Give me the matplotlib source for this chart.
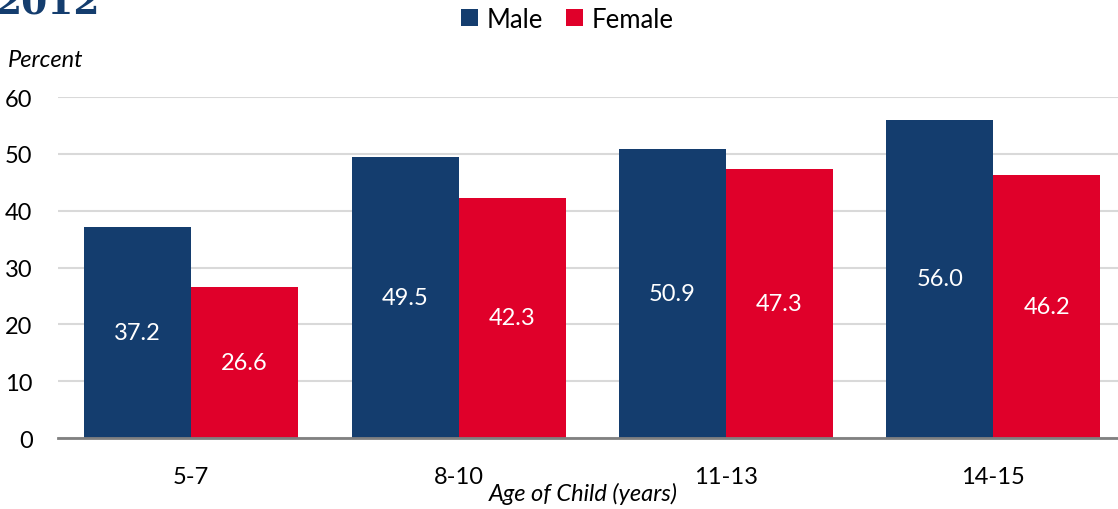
import matplotlib.pyplot as plt
import numpy as np

plt.rcParams['font.family'] = ['Lato', 'DejaVu Sans']

ages = ['5-7', '8-10', '11-13', '14-15']
male = [37.2, 49.5, 50.9, 56.0]
female = [26.6, 42.3, 47.3, 46.2]
yticks = [0, 10, 20, 30, 40, 50, 60]

navy = '#143d6e'
red = '#e0002a'
fs = 17

fig = plt.figure(figsize=(11.18, 5.10), dpi=100)
# plot area runs slightly past the right edge of the figure
ax = fig.add_axes([0.0515, 0.1392, 0.9566, 0.6686])

x = np.arange(len(ages))
w = 0.40
bm = ax.bar(x - w / 2, male, w, color=navy, label='Male', zorder=3)
bf = ax.bar(x + w / 2, female, w, color=red, label='Female', zorder=3)

# value labels sit in the middle of each bar
for bars in (bm, bf):
    for b in bars:
        h = b.get_height()
        ax.text(b.get_x() + b.get_width() / 2, h / 2, f'{h:.1f}',
                ha='center', va='center', color='white', fontsize=fs, zorder=4)

ax.set_xlim(-0.5, len(ages) - 0.5)
ax.set_ylim(0, 60)
ax.set_yticks(yticks)
ax.set_xticks(x)
ax.set_xticklabels(ages)
ax.tick_params(axis='both', length=0, labelsize=fs, colors='black')
ax.tick_params(axis='x', pad=20)
ax.tick_params(axis='y', pad=18)
ax.yaxis.grid(True, color='#d9d9d9', linewidth=1.5, zorder=0)
for s in ['top', 'right', 'left']:
    ax.spines[s].set_visible(False)
ax.spines['bottom'].set_color('#808080')
ax.spines['bottom'].set_linewidth(2)
ax.spines['bottom'].set_zorder(5)

ax.set_xlabel('Age of Child (years)', fontsize=fs, style='italic', va='center')
ax.xaxis.set_label_coords(0.4916, -0.161)
fig.text(0.007, 0.882, 'Percent', fontsize=fs, style='italic', va='center')
fig.text(-0.004, 0.995, '2012', fontsize=27, fontweight='bold', color=navy,
         family='DejaVu Serif', va='center')

fig.legend(loc='upper center', bbox_to_anchor=(0.5076, 1.03), ncol=2, frameon=False,
           fontsize=18.5, handlelength=0.65, handleheight=0.65, handletextpad=0.35,
           columnspacing=0.9)

fig.savefig('out.png', dpi=100)
